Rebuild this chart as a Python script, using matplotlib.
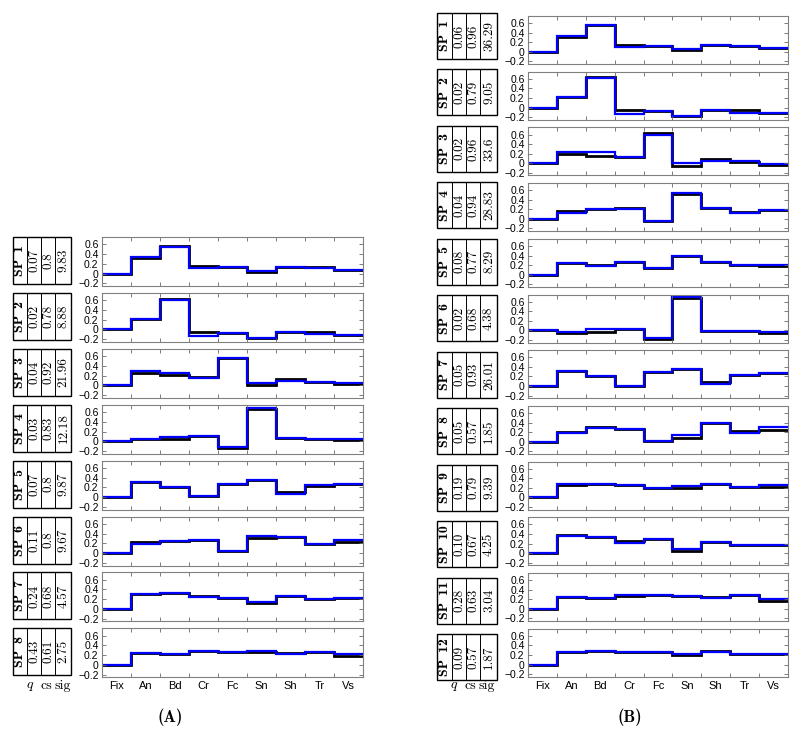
import numpy as np
import matplotlib.pyplot as plt
from matplotlib.patches import Rectangle

plt.rcParams['font.family'] = ['Liberation Sans', 'DejaVu Sans']
plt.rcParams['mathtext.fontset'] = 'cm'

W, H = 800, 733

categories = ['Fix', 'An', 'Bd', 'Cr', 'Fc', 'Sn', 'Sh', 'Tr', 'Vs']
yticks = [-0.2, 0, 0.2, 0.4, 0.6]
ytick_labels = ['\u22120.2', '0', '0.2', '0.4', '0.6']

# panel A
sp_a = ['SP 1', 'SP 2', 'SP 3', 'SP 4', 'SP 5', 'SP 6', 'SP 7', 'SP 8']
q_a = ['0.07', '0.02', '0.04', '0.03', '0.07', '0.11', '0.24', '0.43']
cs_a = ['0.8', '0.78', '0.92', '0.83', '0.8', '0.8', '0.68', '0.61']
sig_a = ['9.83', '8.88', '21.96', '12.18', '9.87', '9.67', '4.57', '2.75']
black_a = [
    [0, 0.31, 0.56, 0.15, 0.13, 0.03, 0.14, 0.13, 0.08],
    [0, 0.21, 0.63, -0.05, -0.07, -0.18, -0.06, -0.06, -0.12],
    [0, 0.26, 0.22, 0.18, 0.56, 0.0, 0.13, 0.06, 0.02],
    [0, 0.04, 0.05, 0.11, -0.13, 0.67, 0.06, 0.04, 0.03],
    [0, 0.31, 0.21, 0.03, 0.28, 0.36, 0.11, 0.23, 0.27],
    [0, 0.23, 0.24, 0.27, 0.04, 0.31, 0.33, 0.19, 0.23],
    [0, 0.31, 0.32, 0.27, 0.22, 0.12, 0.27, 0.20, 0.22],
    [0, 0.25, 0.23, 0.28, 0.26, 0.27, 0.25, 0.27, 0.19],
]
blue_a = [
    [0, 0.33, 0.55, 0.11, 0.13, 0.06, 0.14, 0.12, 0.08],
    [0, 0.22, 0.61, -0.13, -0.08, -0.18, -0.06, -0.10, -0.12],
    [0, 0.29, 0.26, 0.16, 0.56, 0.04, 0.09, 0.06, 0.04],
    [0, 0.04, 0.08, 0.11, -0.11, 0.69, 0.06, 0.04, 0.05],
    [0, 0.31, 0.21, 0.03, 0.28, 0.36, 0.07, 0.25, 0.27],
    [0, 0.19, 0.24, 0.27, 0.04, 0.35, 0.33, 0.19, 0.26],
    [0, 0.31, 0.32, 0.24, 0.22, 0.15, 0.27, 0.21, 0.22],
    [0, 0.25, 0.23, 0.28, 0.26, 0.28, 0.23, 0.27, 0.22],
]

# panel B
sp_b = ['SP %d' % (i + 1) for i in range(12)]
q_b = ['0.06', '0.02', '0.02', '0.04', '0.08', '0.02',
       '0.05', '0.05', '0.19', '0.10', '0.28', '0.09']
cs_b = ['0.96', '0.79', '0.96', '0.94', '0.77', '0.68',
        '0.93', '0.57', '0.79', '0.67', '0.63', '0.57']
sig_b = ['36.29', '9.05', '33.6', '28.83', '8.29', '4.38',
         '26.01', '1.85', '9.39', '4.25', '3.04', '1.87']
black_b = [
    [0, 0.30, 0.56, 0.14, 0.12, 0.03, 0.14, 0.13, 0.07],
    [0, 0.21, 0.64, -0.05, -0.07, -0.18, -0.06, -0.06, -0.11],
    [0, 0.19, 0.16, 0.13, 0.64, -0.05, 0.09, 0.03, -0.03],
    [0, 0.16, 0.20, 0.23, -0.04, 0.52, 0.22, 0.14, 0.18],
    [0, 0.24, 0.20, 0.27, 0.14, 0.39, 0.26, 0.21, 0.19],
    [0, -0.05, -0.04, 0.03, -0.19, 0.68, -0.02, -0.02, -0.06],
    [0, 0.31, 0.21, 0.0, 0.30, 0.36, 0.08, 0.23, 0.28],
    [0, 0.21, 0.31, 0.26, 0.01, 0.08, 0.40, 0.23, 0.25],
    [0, 0.27, 0.29, 0.27, 0.19, 0.19, 0.28, 0.22, 0.22],
    [0, 0.38, 0.33, 0.26, 0.29, 0.05, 0.23, 0.18, 0.17],
    [0, 0.24, 0.22, 0.27, 0.29, 0.27, 0.25, 0.28, 0.17],
    [0, 0.27, 0.28, 0.27, 0.27, 0.19, 0.29, 0.22, 0.22],
]
blue_b = [
    [0, 0.33, 0.56, 0.11, 0.12, 0.06, 0.14, 0.12, 0.07],
    [0, 0.21, 0.61, -0.13, -0.08, -0.18, -0.06, -0.11, -0.11],
    [0, 0.24, 0.24, 0.13, 0.60, 0.01, 0.04, 0.04, -0.02],
    [0, 0.13, 0.20, 0.21, -0.04, 0.55, 0.22, 0.12, 0.18],
    [0, 0.24, 0.19, 0.27, 0.14, 0.39, 0.26, 0.21, 0.21],
    [0, -0.03, 0.02, 0.03, -0.16, 0.69, -0.02, -0.02, -0.04],
    [0, 0.31, 0.21, 0.0, 0.30, 0.36, 0.05, 0.23, 0.28],
    [0, 0.19, 0.28, 0.26, 0.01, 0.14, 0.40, 0.19, 0.30],
    [0, 0.28, 0.29, 0.25, 0.19, 0.24, 0.28, 0.22, 0.25],
    [0, 0.36, 0.33, 0.22, 0.29, 0.09, 0.23, 0.16, 0.17],
    [0, 0.24, 0.22, 0.28, 0.29, 0.27, 0.22, 0.28, 0.21],
    [0, 0.27, 0.28, 0.27, 0.27, 0.21, 0.26, 0.22, 0.22],
]

fig = plt.figure(figsize=(W / 100, H / 100), dpi=100)


def add_ax(x0, y0, w, h):
    # pixel box (top-left origin) -> figure fraction
    return fig.add_axes([x0 / W, 1 - (y0 + h) / H, w / W, h / H])


def draw_row(ax, black, blue, last):
    edges = np.arange(len(categories) + 1)
    ax.stairs(black, edges, baseline=None, color='k', lw=2.0)
    ax.stairs(blue, edges, baseline=None, color='#0000ff', lw=1.6)
    ax.set_xlim(0, len(categories))
    ax.set_ylim(-0.255, 0.75)
    ax.set_yticks(yticks)
    ax.set_yticklabels(ytick_labels)
    ax.set_xticks(np.arange(len(categories)) + 0.5)
    ax.set_xticks(np.arange(1, len(categories)), minor=True)
    if last:
        ax.set_xticklabels(categories)
    else:
        ax.set_xticklabels([])
    ax.tick_params(axis='x', which='major', length=0, pad=3, labelsize=8)
    ax.tick_params(axis='x', which='minor', direction='in', length=3,
                   top=True, width=0.6, color='#666666')
    ax.tick_params(axis='y', direction='in', length=3, right=True, pad=2.5,
                   labelsize=7.5, width=0.6, color='#666666')
    for s in ax.spines.values():
        s.set_color('#808080')
        s.set_linewidth(0.8)


def draw_table(x0, y0, widths, h, texts):
    tax = add_ax(x0, y0, sum(widths), h)
    tax.set_xlim(0, sum(widths))
    tax.set_ylim(0, h)
    tax.axis('off')
    tax.add_patch(Rectangle((0, 0), sum(widths), h, fill=False, lw=1.0,
                            ec='k', clip_on=False))
    x = 0
    for i, (w, t) in enumerate(zip(widths, texts)):
        if i > 0:
            tax.plot([x, x], [0, h], color='k', lw=0.7)
        if i == 0:
            tax.text(x + w / 2, h / 2, t.replace(' ', '\u2002'), rotation=90,
                     ha='center', va='center', family=['cmb10', 'DejaVu Serif'],
                     fontsize=10)
        else:
            tax.text(x + w / 2 + 0.5, h / 2, t, rotation=90, ha='center',
                     va='center', family='cmr10', fontsize=9.5)
        x += w


def draw_panel(x_ax, w_ax, top, pitch, h_ax, x_tab, widths, tab_top, tab_pitch,
               tab_h, sp, q, cs, sig, black, blue, letter, letter_x):
    n = len(sp)
    for i in range(n):
        ax = add_ax(x_ax, top + i * pitch, w_ax, h_ax)
        draw_row(ax, black[i], blue[i], i == n - 1)
        draw_table(x_tab, tab_top + i * tab_pitch, widths, tab_h,
                   [sp[i], q[i], cs[i], sig[i]])
    y_lab = (top + (n - 1) * pitch + h_ax + 9) 
    fig.text((x_tab + 17) / W, 1 - y_lab / H, '$q$', ha='center', va='center',
             fontsize=10)
    fig.text((x_tab + 33) / W, 1 - y_lab / H, 'cs', ha='center', va='center',
             family='cmr10', fontsize=10)
    fig.text((x_tab + 50) / W, 1 - y_lab / H, 'sig', ha='center', va='center',
             family='cmr10', fontsize=10)
    fig.text(letter_x / W, 1 - 717 / H, '(%s)' % letter, ha='center',
             va='center', family='cmb10', fontsize=12)


draw_panel(102, 261, 237, 55.9, 49, 13, [13.5, 14.2, 14.3, 16], 237, 55.9, 47,
           sp_a, q_a, cs_a, sig_a, black_a, blue_a, 'A', 170)
draw_panel(528, 260, 16, 55.7, 48, 437, [15, 14, 14, 17], 13, 56.45, 46,
           sp_b, q_b, cs_b, sig_b, black_b, blue_b, 'B', 630)

fig.savefig('out.png', dpi=100)
